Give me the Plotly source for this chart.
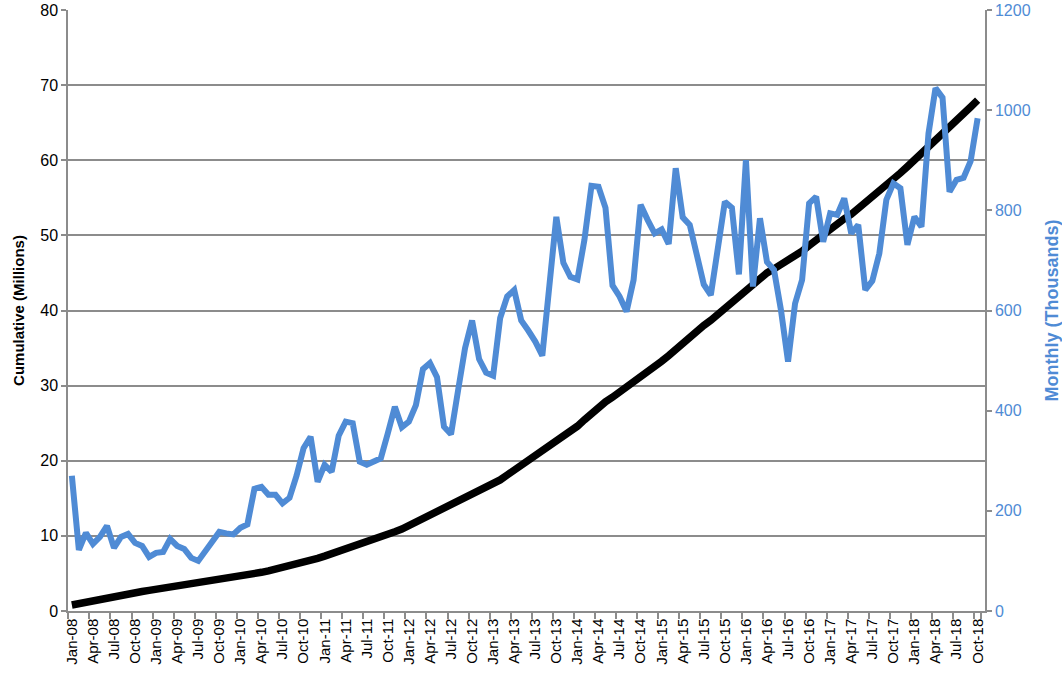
import plotly.graph_objects as go

MONTHS = ["Jan", "Feb", "Mar", "Apr", "May", "Jun", "Jul", "Aug", "Sep", "Oct", "Nov", "Dec"]
YEARS = ["08", "09", "10", "11", "12", "13", "14", "15", "16", "17", "18"]
categories = [f"{m}-{y}" for y in YEARS for m in MONTHS][:130]  # Jan-08 .. Oct-18

# Monthly (thousands) - right axis
monthly = [
    270, 122, 156, 134, 148, 170, 126, 148, 154, 136, 130, 108,
    116, 118, 144, 130, 124, 106, 100, 120, 138, 158, 155, 153,
    166, 173, 244, 248, 232, 232, 215, 226, 270, 325, 348, 258,
    292, 278, 350, 378, 375, 298, 292, 300, 305, 355, 408, 367,
    378, 411, 483, 495, 467, 368, 353, 440, 525, 580, 503, 476,
    470, 585, 628, 641, 580, 560, 538, 510, 660, 787, 695, 667,
    662, 741, 849, 847, 805, 650, 628, 598, 661, 811, 781, 754,
    762, 733, 884, 786, 771, 714, 652, 631, 715, 817, 805, 672,
    900, 648, 784, 697, 681, 600, 498, 614, 661, 814, 827, 737,
    794, 791, 824, 754, 771, 641, 659, 714, 821, 854, 844, 731,
    787, 767, 953, 1044, 1025, 837, 861, 865, 898, 984,
]

# Cumulative (millions) - left axis
cumulative = [
    0.80, 1.00, 1.22, 1.45, 1.60, 1.75, 1.90, 2.08, 2.26, 2.44, 2.60, 2.75,
    2.90, 3.01, 3.13, 3.24, 3.36, 3.48, 3.60, 3.74, 3.89, 4.04, 4.22, 4.41,
    4.60, 4.78, 4.96, 5.15, 5.35, 5.55, 5.75, 5.96, 6.18, 6.42, 6.70, 7.00,
    7.30, 7.60, 7.92, 8.26, 8.60, 8.90, 9.20, 9.52, 9.85, 10.20, 10.55, 10.90,
    11.35, 11.80, 12.30, 12.80, 13.30, 13.80, 14.25, 14.70, 15.20, 15.60, 15.95, 16.30,
    16.85, 17.45, 18.10, 18.75, 19.35, 20.00, 20.60, 21.20, 21.80, 22.40, 23.10, 23.85,
    24.60, 25.45, 26.35, 27.20, 27.85, 28.45, 29.10, 29.70, 30.40, 31.10, 31.80, 32.50,
    33.25, 34.00, 34.85, 35.70, 36.50, 37.25, 38.00, 38.70, 39.50, 40.35, 41.20, 42.00,
    42.80, 43.60, 44.30, 45.00, 45.55, 46.10, 46.60, 47.25, 47.90, 48.65, 49.40, 50.20,
    51.00, 51.60, 52.20, 52.80, 53.55, 54.30, 55.10, 55.90, 56.70, 57.50, 58.30, 59.15,
    60.00, 60.90, 61.80, 62.70, 63.60, 64.50, 65.35, 66.20, 67.10, 68.00,
]

tick_labels = categories[::3]
left_ticks = [0, 10, 20, 30, 40, 50, 60, 70, 80]
right_ticks = [0, 200, 400, 600, 800, 1000, 1200]

BLUE = "#4f8bd5"
GRID = "#8c8c8c"
FONT = "Liberation Sans, Arial, sans-serif"

fig = go.Figure()
fig.add_trace(go.Scatter(
    x=categories, y=cumulative, mode="lines", name="Cumulative",
    line=dict(color="#000000", width=7.5), yaxis="y",
))
fig.add_trace(go.Scatter(
    x=categories, y=monthly, mode="lines", name="Monthly",
    line=dict(color=BLUE, width=6), yaxis="y2",
))

fig.update_layout(
    width=1062, height=681,
    margin=dict(l=68, r=77, t=10, b=70),
    paper_bgcolor="white", plot_bgcolor="white",
    showlegend=False,
    font=dict(family=FONT, color="#000000"),
    xaxis=dict(
        type="category", categoryorder="array", categoryarray=categories,
        range=[-0.55, 130.05],
        tickvals=tick_labels, ticktext=tick_labels, tickangle=-90,
        tickfont=dict(size=15, color="#000000"),
        showgrid=False, showline=True, linecolor=GRID, linewidth=1.5,
        ticks="outside", ticklen=6, tickcolor=GRID, tickwidth=1.5,
        tickson="boundaries", zeroline=False,
    ),
    yaxis=dict(
        range=[0, 80], tickvals=left_ticks,
        tickfont=dict(size=16, color="#000000"),
        showgrid=True, gridcolor=GRID, gridwidth=1.5,
        showline=True, linecolor=GRID, linewidth=1.5,
        ticks="outside", ticklen=5, tickcolor=GRID, tickwidth=1.5,
        zeroline=False,
        title=dict(text="<b>Cumulative (Millions)</b>", font=dict(size=15, color="#000000"), standoff=12),
        automargin=False,
    ),
    yaxis2=dict(
        range=[0, 1200], tickvals=right_ticks, overlaying="y", side="right",
        tickfont=dict(size=16, color=BLUE),
        showgrid=False, showline=True, linecolor=GRID, linewidth=1.5,
        ticks="outside", ticklen=5, tickcolor=GRID, tickwidth=1.5,
        zeroline=False,
        title=dict(text="<b>Monthly (Thousands)</b>", font=dict(size=18, color=BLUE), standoff=16),
        automargin=False,
    ),
)

fig.write_html("out.html", config={"displayModeBar": False},
               post_script="document.body.style.margin='0';")
